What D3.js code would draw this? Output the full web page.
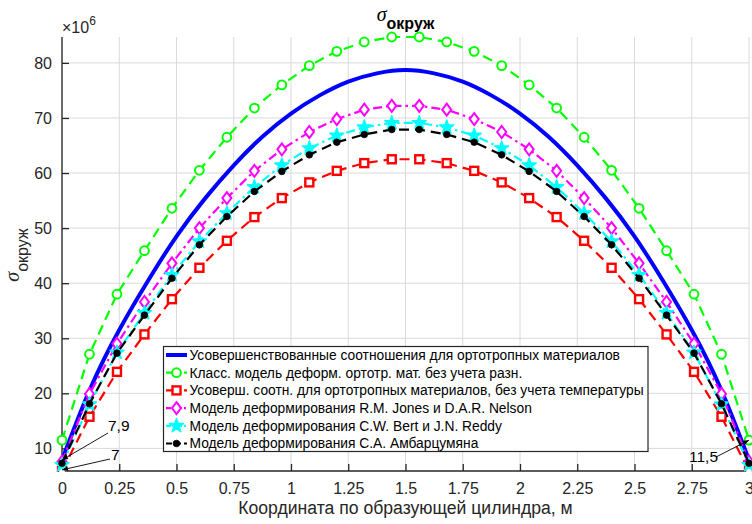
<!DOCTYPE html>
<html><head><meta charset="utf-8">
<script src="https://cdn.jsdelivr.net/npm/d3@7"></script>
<style>
body{margin:0;background:#fff;}
svg{display:block;font-family:"Liberation Sans",Arial,sans-serif;}
</style></head>
<body><svg id="c" width="752" height="524"></svg>
<script>
// ---- data ----
const xMark = [0,0.12,0.24,0.36,0.48,0.6,0.72,0.84,0.96,1.08,1.2,1.32,1.44,1.56,1.68,1.8,1.92,2.04,2.16,2.28,2.4,2.52,2.64,2.76,2.88,3];
const xBlue = [0,0.125,0.25,0.375,0.5,0.625,0.75,0.875,1,1.125,1.25,1.375,1.5,1.625,1.75,1.875,2,2.125,2.25,2.375,2.5,2.625,2.75,2.875,3];
const blueVals = [7.9,21.0,31.5,40.4,48.5,55.4,61.4,66.6,70.8,74.1,76.6,78.1,78.7,78.1,76.6,74.1,70.8,66.6,61.4,55.4,48.5,40.4,31.5,21.0,7.9];
const greenVals = [11.5,27.1,38.0,45.9,53.6,60.5,66.5,71.8,76.0,79.5,82.1,83.8,84.7,84.7,83.8,82.1,79.5,76.0,71.8,66.5,60.5,53.6,45.9,38.0,27.1,11.5];
const redVals = [5.9,15.75,23.9,30.7,37.1,42.8,47.7,52.0,55.45,58.3,60.4,61.8,62.5,62.5,61.8,60.4,58.3,55.45,52.0,47.7,42.8,37.1,30.7,23.9,15.75,5.9];
const magentaVals = [7.6,19.9,29.0,36.6,43.6,50.0,55.45,60.4,64.3,67.45,69.8,71.5,72.2,72.2,71.5,69.8,67.45,64.3,60.4,55.45,50.0,43.6,36.6,29.0,19.9,7.6];
const cyanVals = [7.0,18.0,27.4,34.6,41.5,47.6,52.7,57.45,61.4,64.5,66.8,68.3,69.1,69.1,68.3,66.8,64.5,61.4,57.45,52.7,47.6,41.5,34.6,27.4,18.0,7.0];
const blackVals = [7.3,18.1,27.3,34.2,40.9,46.96,52.1,56.65,60.3,63.3,65.6,67.0,67.9,67.9,67.0,65.6,63.3,60.3,56.65,52.1,46.96,40.9,34.2,27.3,18.1,7.3];
const seriesNames = [
  "Усовершенствованные соотношения для ортотропных материалов",
  "Класс. модель деформ. ортотр. мат. без учета разн.",
  "Усоверш. соотн. для ортотропных материалов, без учета температуры",
  "Модель деформирования R.M. Jones и D.A.R. Nelson",
  "Модель деформирования C.W. Bert и J.N. Reddy",
  "Модель деформирования С.А. Амбарцумяна"
];
const xTicks = [0,0.25,0.5,0.75,1,1.25,1.5,1.75,2,2.25,2.5,2.75,3];
const xTickLabels = ["0","0.25","0.5","0.75","1","1.25","1.5","1.75","2","2.25","2.5","2.75","3"];
const yTicks = [10,20,30,40,50,60,70,80];
const annLabels = ["7,9","7","11,5"];
const annX = [0,0,3];
const annY = [7.9,6.1,11.5];

// ---- layout ----
const L=62,R=749,T=37,B=471;
const svg=d3.select("#c");
const allY=[].concat(blueVals,greenVals,redVals,magentaVals,cyanVals,blackVals);
const x=d3.scaleLinear().domain([0,3]).range([L,R]);
const y=d3.scaleLinear().domain(d3.extent(allY)).range([B,T]);
const ink="#262626";

// grid
const g=svg.append("g");
g.selectAll(".vg").data(xTicks).join("line").attr("x1",d=>x(d)).attr("x2",d=>x(d)).attr("y1",T).attr("y2",B).attr("stroke","#dadada").attr("stroke-width",1);
g.selectAll(".hg").data(yTicks).join("line").attr("x1",L).attr("x2",R).attr("y1",d=>y(d)).attr("y2",d=>y(d)).attr("stroke","#dadada").attr("stroke-width",1);

// axes
const xAx=d3.axisBottom(x).tickValues(xTicks).tickFormat((d,i)=>xTickLabels[i]).tickSizeInner(-7).tickSizeOuter(0).tickPadding(12);
const yAx=d3.axisLeft(y).tickValues(yTicks).tickSizeInner(-7).tickSizeOuter(0).tickPadding(10);
const gx=svg.append("g").attr("transform",`translate(0,${B})`).call(xAx);
const gy=svg.append("g").attr("transform",`translate(${L},0)`).call(yAx);
[gx,gy].forEach(a=>{a.select(".domain").attr("stroke",ink).attr("stroke-width",1.3);
  a.selectAll(".tick line").attr("stroke",ink).attr("stroke-width",1.3);
  a.selectAll(".tick text").attr("fill",ink).attr("font-size",16).attr("font-family","Liberation Sans, Arial, sans-serif");});
gy.select(".domain").attr("d",`M0,${T}V${B}`);
gx.select(".domain").attr("d",`M${L},0H${R}`);

// clip
svg.append("clipPath").attr("id","cp").append("rect").attr("x",L-8).attr("y",T-8).attr("width",R-L+16).attr("height",B-T+9);
const plot=svg.append("g").attr("clip-path","url(#cp)");

const specs=[
 {xs:xBlue,vals:blueVals,color:"#0000ff",w:4,dash:null,marker:null},
 {xs:xMark,vals:greenVals,color:"#00ff00",w:2.2,dash:"10,6",marker:"circle"},
 {xs:xMark,vals:redVals,color:"#ff0000",w:2.2,dash:"10,6",marker:"square"},
 {xs:xMark,vals:magentaVals,color:"#ff00ff",w:2.2,dash:"9,4,2.5,4",marker:"diamond"},
 {xs:xMark,vals:cyanVals,color:"#00ffff",w:2.2,dash:"9,4,2.5,4",marker:"star"},
 {xs:xMark,vals:blackVals,color:"#000000",w:2.2,dash:"10,6",marker:"dot"}
];
function drawMarker(sel,type,color){
  if(type==="circle") sel.append("circle").attr("r",4.4).attr("fill","#fff").attr("stroke",color).attr("stroke-width",2);
  else if(type==="square") sel.append("rect").attr("x",-4).attr("y",-4).attr("width",8).attr("height",8).attr("fill","#fff").attr("stroke",color).attr("stroke-width",2.4);
  else if(type==="diamond") sel.append("path").attr("d","M0,-6L4.5,0L0,6L-4.5,0Z").attr("fill","#fff").attr("stroke",color).attr("stroke-width",2);
  else if(type==="star") sel.append("path").attr("d",d3.symbol(d3.symbolStar,60)()).attr("fill",color).attr("stroke",color).attr("stroke-width",1.5).attr("stroke-linejoin","round");
  else if(type==="dot") sel.append("circle").attr("r",3.3).attr("fill",color).attr("stroke",color).attr("stroke-width",0.8);
}
specs.forEach(s=>{
  const pts=s.xs.map((xv,i)=>[xv,s.vals[i]]);
  const line=d3.line().x(d=>x(d[0])).y(d=>y(d[1])).curve(s.marker?d3.curveLinear:d3.curveNatural);
  const p=plot.append("path").datum(pts).attr("d",line).attr("fill","none").attr("stroke",s.color).attr("stroke-width",s.w).attr("stroke-linejoin","round");
  if(s.dash) p.attr("stroke-dasharray",s.dash);
  if(s.marker){
    plot.selectAll(null).data(pts).join("g").attr("transform",d=>`translate(${x(d[0])},${y(d[1])})`).each(function(){drawMarker(d3.select(this),s.marker,s.color);});
  }
});

// annotations
const annText=[[108,431],[111,460],[689,462]];
const annStart=[[108,433],[110,459],[716,457]];
annLabels.forEach((t,i)=>{
  const tx=x(annX[i]), ty=y(annY[i]);
  const [sx,sy]=annStart[i];
  const ang=Math.atan2(ty-sy,tx-sx);
  svg.append("line").attr("x1",sx).attr("y1",sy).attr("x2",tx).attr("y2",ty).attr("stroke","#000").attr("stroke-width",0.9);
  const hl=6,hw=2.5;
  const bx=tx-hl*Math.cos(ang), by=ty-hl*Math.sin(ang);
  svg.append("path").attr("d",`M${tx},${ty}L${bx-hw*Math.sin(ang)},${by+hw*Math.cos(ang)}L${bx+hw*Math.sin(ang)},${by-hw*Math.cos(ang)}Z`).attr("fill","#000");
  const [px,py]=annText[i];
  svg.append("text").attr("x",px).attr("y",py).attr("font-size",15.5).attr("fill","#000").text(t);
});

// legend
const lg=svg.append("g");
lg.append("rect").attr("x",163.5).attr("y",346.5).attr("width",484.5).attr("height",105).attr("fill","#fff").attr("stroke","#262626").attr("stroke-width",1.2);
seriesNames.forEach((n,i)=>{
  const s=specs[i]; const cy=355+i*17.7;
  const l=lg.append("line").attr("x1",166).attr("x2",187).attr("y1",cy).attr("y2",cy).attr("stroke",s.color).attr("stroke-width",s.w);
  if(s.dash) l.attr("stroke-dasharray",i===1||i===2||i===5?"6,3":"5,2,2,2");
  if(s.marker){const m=lg.append("g").attr("transform",`translate(176.5,${cy})`);drawMarker(m,s.marker,s.color);}
  lg.append("text").attr("x",189.5).attr("y",cy+4.8).attr("font-size",13.8).attr("fill","#000").text(n);
});

// title
const tt=svg.append("text").attr("x",405.5).attr("y",21).attr("text-anchor","middle").attr("fill","#000");
tt.append("tspan").attr("font-family","Liberation Serif, serif").attr("font-style","italic").attr("font-size",20).text("σ");
tt.append("tspan").attr("font-weight","bold").attr("font-size",16).attr("dy",8).text("окруж");

// y label
const yl=svg.append("text").attr("transform","translate(19,255) rotate(-90)").attr("text-anchor","middle").attr("fill",ink);
yl.append("tspan").attr("font-family","Liberation Serif, serif").attr("font-style","italic").attr("font-size",20).text("σ");
yl.append("tspan").attr("font-size",16).attr("dy",9).text("окруж");

// x label
svg.append("text").attr("x",405.5).attr("y",514).attr("text-anchor","middle").attr("font-size",17.6).attr("fill",ink).text("Координата по образующей цилиндра, м");

// exponent
const ex=svg.append("text").attr("x",62).attr("y",33).attr("fill",ink).attr("font-size",16);
ex.append("tspan").text("×10");
ex.append("tspan").attr("font-size",12).attr("dy",-8).text("6");
</script></body></html>
